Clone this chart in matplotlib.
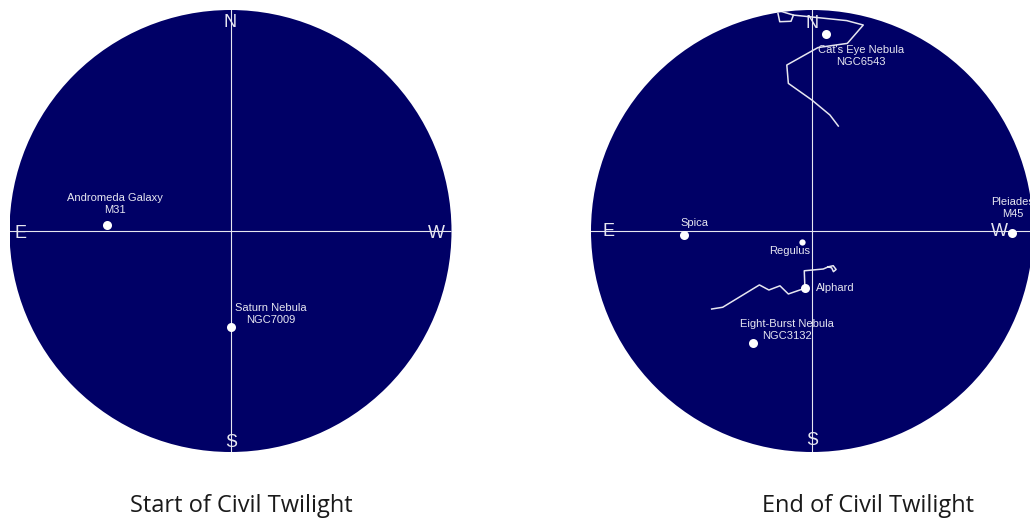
import matplotlib
matplotlib.use('Agg')
import matplotlib.pyplot as plt
from matplotlib.patches import Circle

plt.rcParams['font.family'] = ['Liberation Sans', 'DejaVu Sans']

SKY = '#000066'
INK = '#e6e6f0'

# ---- data: positions on the sky disk (radius 1, north up, east left) ----
start_names = ['Andromeda Galaxy\nM31', 'Saturn Nebula\nNGC7009']
start_x = [-0.560, 0.001]
start_y = [0.027, -0.433]

end_names = ["Cat's Eye Nebula\nNGC6543", 'Spica', 'Regulus',
             'Pleiades\nM45', 'Alphard', 'Eight-Burst Nebula\nNGC3132']
end_x = [0.062, -0.579, -0.047, 0.904, -0.032, -0.266]
end_y = [0.891, -0.018, -0.051, -0.010, -0.259, -0.508]

# constellation lines (end of twilight)
draco_head_x = [-0.157, -0.084, -0.095, -0.146, -0.157]
draco_head_y = [0.999, 0.977, 0.949, 0.947, 0.999]
draco_body_x = [-0.084, 0.157, 0.232, 0.160, 0.027, -0.114, -0.107, -0.001, 0.081, 0.119]
draco_body_y = [0.977, 0.952, 0.932, 0.849, 0.830, 0.751, 0.668, 0.593, 0.525, 0.475]
hydra_x = [-0.454, -0.404, -0.238, -0.195, -0.145, -0.107, -0.032, -0.035,
           0.051, 0.074, 0.096, 0.109, 0.097, 0.089, 0.074]
hydra_y = [-0.353, -0.345, -0.244, -0.267, -0.248, -0.285, -0.259, -0.180,
           -0.172, -0.162, -0.157, -0.174, -0.184, -0.167, -0.162]

# ---- layout / style (label offsets in pixels, dot sizes) ----
start_offsets = [(8, 21), (40, 12.5)]
start_sizes = [6.5, 6.5]
end_offsets = [(35, -22), (10, 12), (-12, -8.5), (1, 25), (30, 0), (34, 13.5)]
end_sizes = [6.5, 6.5, 4.5, 6.5, 6.5, 6.5]

fig = plt.figure(figsize=(10.3, 5.18), dpi=100)
W, H = 1030, 518
R = 221


def sky_axes(cx, cy):
    ax = fig.add_axes([(cx - R) / W, (H - cy - R) / H, 2 * R / W, 2 * R / H])
    ax.set_xlim(-1, 1)
    ax.set_ylim(-1, 1)
    ax.axis('off')
    disk = Circle((0, 0), 1, facecolor=SKY, edgecolor='none', zorder=0)
    ax.add_patch(disk)
    for ln in ax.plot([-1, 1], [0, 0], color=INK, lw=0.8, zorder=1) + \
            ax.plot([0, 0], [-1, 1], color=INK, lw=0.8, zorder=1):
        ln.set_clip_path(disk)
    return ax, disk


def cardinals(ax, pos):
    for letter, (x, y) in pos.items():
        ax.text(x, y, letter, color=INK, fontsize=13, ha='center', va='center', zorder=4)


def objects(ax, names, xs, ys, offsets, sizes):
    for name, x, y, off, s in zip(names, xs, ys, offsets, sizes):
        ax.plot(x, y, 'o', color='white', ms=s, mec='none', zorder=3)
        ax.annotate(name, (x, y), xytext=off, textcoords='offset pixels',
                    ha='center', va='center', color=INK, fontsize=8,
                    linespacing=1.25, zorder=4)


# left: start of civil twilight
ax1, d1 = sky_axes(230.5, 231)
cardinals(ax1, {'N': (0.0, 0.943), 'E': (-0.948, -0.01), 'W': (0.930, -0.01), 'S': (0.002, -0.957)})
objects(ax1, start_names, start_x, start_y, start_offsets, start_sizes)

# right: end of civil twilight
ax2, d2 = sky_axes(812, 231)
for xs, ys in [(draco_head_x, draco_head_y), (draco_body_x, draco_body_y), (hydra_x, hydra_y)]:
    ln, = ax2.plot(xs, ys, color=INK, lw=1.1, zorder=2)
    ln.set_clip_path(d2)
cardinals(ax2, {'N': (0.0, 0.940), 'E': (-0.923, -0.003), 'W': (0.848, -0.003), 'S': (0.0, -0.947)})
objects(ax2, end_names, end_x, end_y, end_offsets, end_sizes)

fig.text(241 / W, 1 - 512 / H, 'Start of Civil Twilight', ha='center', va='baseline',
         fontsize=17, family='Open Sans', color='#1a1a1a')
fig.text(868 / W, 1 - 512 / H, 'End of Civil Twilight', ha='center', va='baseline',
         fontsize=17, family='Open Sans', color='#1a1a1a')

fig.savefig('out.png', dpi=100, facecolor='white')
